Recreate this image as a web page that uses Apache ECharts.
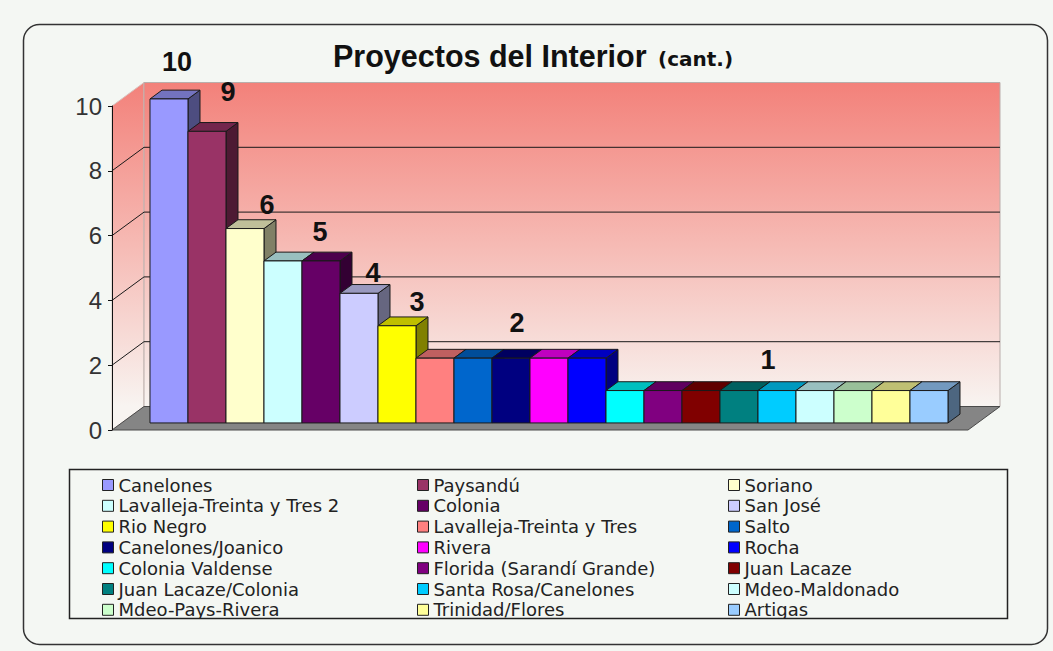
<!DOCTYPE html>
<html>
<head>
<meta charset="utf-8">
<title>Proyectos del Interior</title>
<script src="https://cdn.jsdelivr.net/npm/echarts@6/dist/echarts.min.js"></script>
<style>
  html, body { margin: 0; padding: 0; background: #f4f7f3; }
  #main { width: 1053px; height: 651px; }
</style>
</head>
<body>
<div id="main"></div>
<script>
// datos del grafico
var regiones = ['Canelones', 'Paysandú', 'Soriano', 'Lavalleja-Treinta y Tres 2', 'Colonia',
    'San José', 'Rio Negro', 'Lavalleja-Treinta y Tres', 'Salto', 'Canelones/Joanico',
    'Rivera', 'Rocha', 'Colonia Valdense', 'Florida (Sarandí Grande)', 'Juan Lacaze',
    'Juan Lacaze/Colonia', 'Santa Rosa/Canelones', 'Mdeo-Maldonado', 'Mdeo-Pays-Rivera',
    'Trinidad/Flores', 'Artigas'];
var proyectos = [10, 9, 6, 5, 5, 4, 3, 2, 2, 2, 2, 2, 1, 1, 1, 1, 1, 1, 1, 1, 1];
var colores = ['#9999ff', '#993366', '#ffffcc', '#ccffff', '#660066', '#ccccff', '#ffff00',
    '#ff8080', '#0066cc', '#000080', '#ff00ff', '#0000ff', '#00ffff', '#800080', '#800000',
    '#008080', '#00ccff', '#ccffff', '#ccffcc', '#ffff99', '#99ccff'];
// barras que llevan el numero arriba
var conEtiqueta = [0, 1, 2, 4, 5, 6, 9, 16];

// estilo: perspectiva y ajustes a mano de los numeros (px)
var PROF = [32, -23.5];      // profundidad de las paredes
var F_FRENTE = 0.3;          // donde empieza la barra
var F_BARRA = 0.375;         // espesor de la barra
var ajusteEtiqueta = {0: [-4, -28], 1: [9, -31], 2: [10, -15], 4: [-13, -20],
    5: [2, -12], 6: [8, -15], 9: [-6, -26], 16: [-21, -22]};
var X_MIN = -1.247, X_MAX = 21.279;
var FONDO = '#f4f7f3';

function tono(hex, k) {
    var n = parseInt(hex.slice(1), 16);
    var r = Math.round(((n >> 16) & 255) * k);
    var g = Math.round(((n >> 8) & 255) * k);
    var b = Math.round((n & 255) * k);
    return 'rgb(' + r + ',' + g + ',' + b + ')';
}

function renderFondo(params, api) {
    var cs = params.coordSys;
    var dx = PROF[0], dy = PROF[1];
    var x0 = cs.x, x1 = cs.x + cs.width, yTop = cs.y, yBot = cs.y + cs.height;
    var grad = new echarts.graphic.LinearGradient(0, yTop + dy, 0, yBot + dy, [
        {offset: 0, color: '#f3817a'},
        {offset: 0.5, color: '#f6bab4'},
        {offset: 1, color: '#f8f4f1'}
    ], true);
    var hijos = [
        {type: 'polygon', shape: {points: [[x0, yTop], [x0 + dx, yTop + dy], [x0 + dx, yBot + dy], [x0, yBot]]},
            style: {fill: grad, stroke: '#d8c4c0', lineWidth: 1}},
        {type: 'rect', shape: {x: x0 + dx, y: yTop + dy, width: cs.width, height: cs.height},
            style: {fill: grad, stroke: '#b9aeab', lineWidth: 1}},
        {type: 'polygon', shape: {points: [[x0, yBot], [x0 + dx, yBot + dy], [x1 + dx, yBot + dy], [x1, yBot]]},
            style: {fill: '#858585', stroke: '#4a4a4a', lineWidth: 1}}
    ];
    for (var v = 2; v < 10; v += 2) {
        var p = api.coord([X_MIN, v]);
        hijos.push({type: 'polyline',
            shape: {points: [[x0, p[1]], [x0 + dx, p[1] + dy], [x1 + dx, p[1] + dy]]},
            style: {stroke: '#1a1a1a', lineWidth: 1, fill: null}});
    }
    return {type: 'group', children: hijos};
}

function renderBarra(params, api) {
    var i = api.value(0), v = api.value(1);
    var color = colores[i];
    var w = api.size([1, 0])[0];
    var b = api.coord([i, 0]), t = api.coord([i, v]);
    var ox = PROF[0] * F_FRENTE, oy = PROF[1] * F_FRENTE;
    var px = PROF[0] * F_BARRA, py = PROF[1] * F_BARRA;
    var x0 = b[0] - w / 2 + ox, x1 = x0 + w;
    var yB = b[1] + oy, yT = t[1] + oy;
    var borde = '#1a1a1a';
    var hijos = [
        {type: 'polygon', shape: {points: [[x1, yT], [x1 + px, yT + py], [x1 + px, yB + py], [x1, yB]]},
            style: {fill: tono(color, 0.5), stroke: borde, lineWidth: 1}},
        {type: 'polygon', shape: {points: [[x0, yT], [x0 + px, yT + py], [x1 + px, yT + py], [x1, yT]]},
            style: {fill: tono(color, 0.75), stroke: borde, lineWidth: 1}},
        {type: 'rect', shape: {x: x0, y: yT, width: w, height: yB - yT},
            style: {fill: color, stroke: borde, lineWidth: 1}}
    ];
    if (conEtiqueta.indexOf(i) >= 0) {
        var aj = ajusteEtiqueta[i] || [0, -20];
        hijos.push({type: 'text', z2: 10,
            x: x0 + w / 2 + px + aj[0], y: yT + py + aj[1],
            style: {text: String(v), fill: '#111', font: 'bold 27px "Liberation Sans", Arial, sans-serif',
                align: 'center', verticalAlign: 'middle'}});
    }
    return {type: 'group', children: hijos};
}

var series = [{type: 'custom', name: 'fondo', silent: true, z: 1, renderItem: renderFondo, data: [[0, 0]]}];
regiones.forEach(function (nombre, i) {
    series.push({
        type: 'custom',
        name: nombre,
        z: 2,
        silent: true,
        itemStyle: {color: colores[i]},
        encode: {x: 0, y: 1},
        renderItem: renderBarra,
        data: [[i, proyectos[i]]]
    });
});

function columna(k) {
    return regiones.filter(function (_, i) { return i % 3 === k; });
}
var colLeyenda = [102, 417, 728];
var leyendas = colLeyenda.map(function (x, k) {
    return {
        orient: 'vertical', left: x, top: 476, padding: 0,
        itemWidth: 11, itemHeight: 11, itemGap: 2.8, icon: 'rect',
        selectedMode: false,
        itemStyle: {borderColor: '#222', borderWidth: 1},
        textStyle: {fontFamily: 'DejaVu Sans', fontSize: 18, lineHeight: 18, color: '#222'},
        data: columna(k)
    };
});

var chart = echarts.init(document.getElementById('main'), null, {renderer: 'svg'});
var option = {
    backgroundColor: FONDO,
    animation: false,
    title: [
        {text: 'Proyectos del Interior', left: 328, top: 35,
            textStyle: {fontSize: 30.5, fontWeight: 'bold', fontFamily: '"Liberation Sans", Arial', color: '#111'}},
        {text: '(cant.)', left: 653, top: 44,
            textStyle: {fontSize: 20, fontWeight: 'bold', fontFamily: '"DejaVu Sans"', color: '#111'}}
    ],
    legend: leyendas,
    grid: {left: 112, right: 85, top: 106, bottom: 221},
    xAxis: {type: 'value', min: X_MIN, max: X_MAX, show: false},
    yAxis: {
        type: 'value', min: 0, max: 10, interval: 2, z: 5,
        axisLine: {show: true, onZero: false, lineStyle: {color: '#111', width: 1}},
        axisTick: {show: true, length: 4, lineStyle: {color: '#111'}},
        splitLine: {show: false},
        axisLabel: {fontSize: 24, color: '#333', fontFamily: '"Liberation Sans", Arial', margin: 10}
    },
    graphic: [
        {type: 'rect', z: 0, shape: {x: 23.5, y: 24.5, width: 1024, height: 620, r: 16},
            style: {fill: 'none', stroke: '#333', lineWidth: 1.5}},
        {type: 'rect', z: 100, shape: {x: 70, y: 619, width: 937, height: 7},
            style: {fill: FONDO}},
        {type: 'rect', z: 100, shape: {x: 69.5, y: 469.5, width: 938, height: 149},
            style: {fill: 'none', stroke: '#222', lineWidth: 1.5}}
    ],
    series: series
};
chart.setOption(option);
</script>
</body>
</html>
